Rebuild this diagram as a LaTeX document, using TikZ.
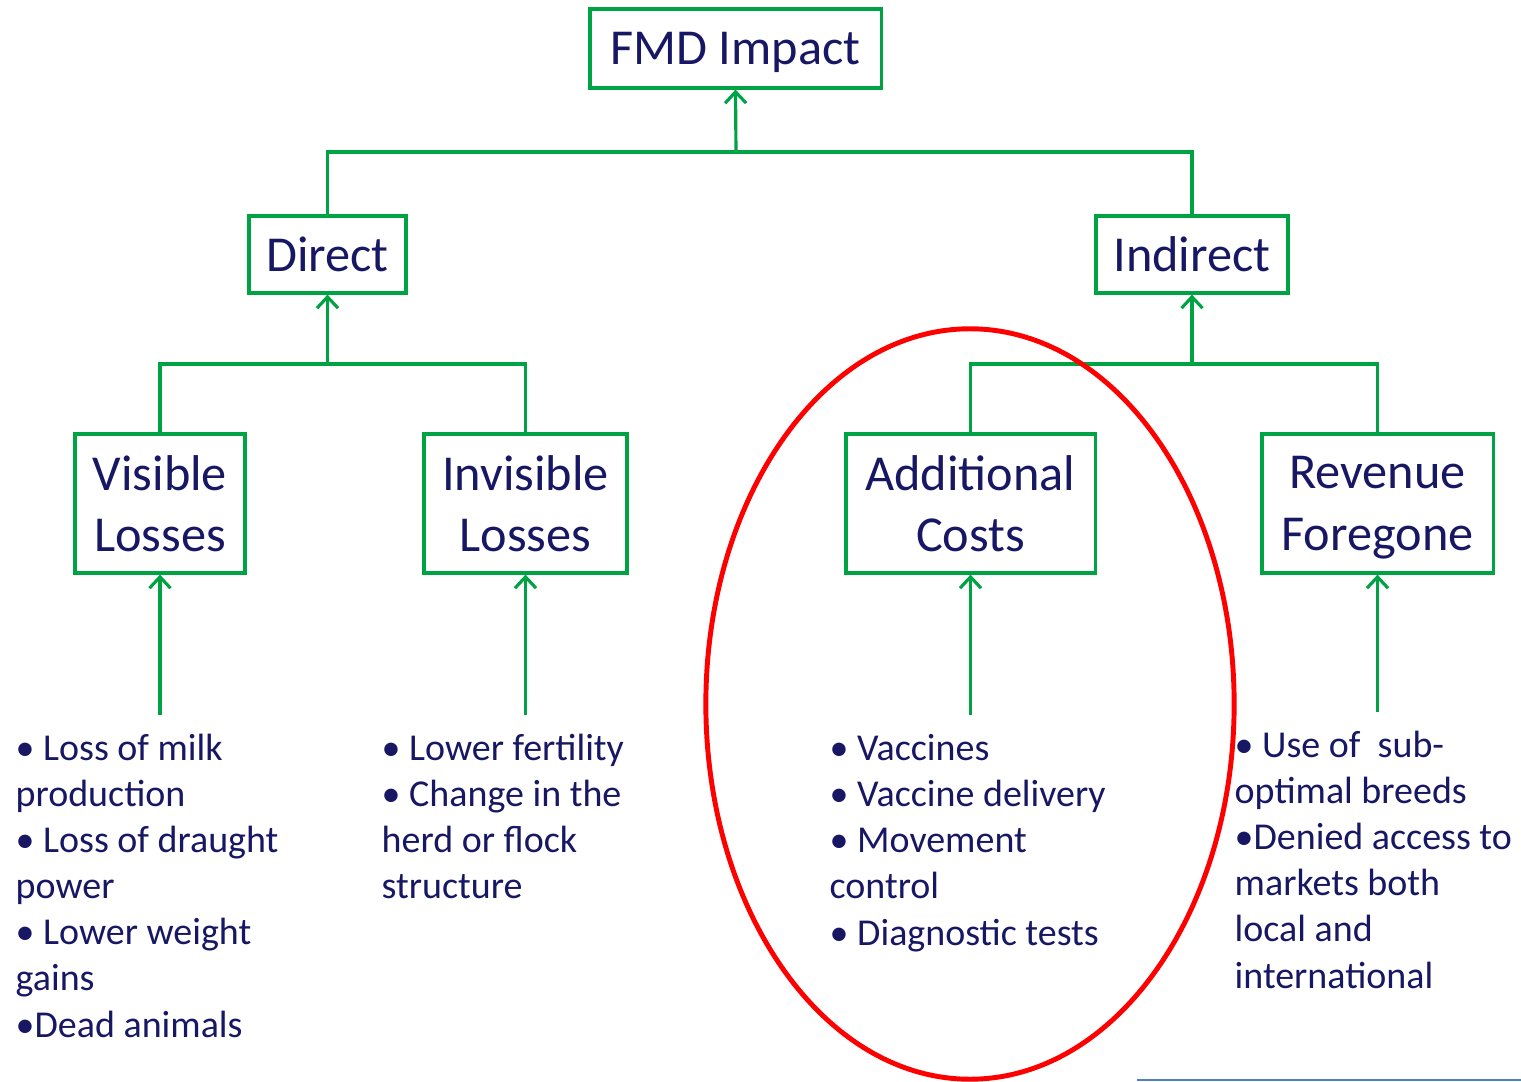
\documentclass[tikz,border=0pt]{standalone}
\usepackage{fontspec}
\setmainfont{Carlito}
\usetikzlibrary{arrows.meta}
\definecolor{boxgreen}{RGB}{0,163,68}
\definecolor{inknavy}{RGB}{23,23,100}
\definecolor{rulerblue}{RGB}{79,129,189}
\tikzset{
  box/.style={draw=boxgreen,line width=0.9pt,text=inknavy,inner sep=0pt,align=center,
    text depth=0pt,font=\fontsize{14.3}{17.6}\selectfont},
  items/.style={anchor=base west,align=left,inner sep=0pt,text=inknavy,
    font=\fontsize{10.8}{13.1}\selectfont},
  link/.style={draw=boxgreen,line width=0.9pt},
  up/.style={link,-{Straight Barb[length=3.2pt,width=6pt]}}
}
\begin{document}
\begin{tikzpicture}[x=0.01cm,y=-0.01cm]
\useasboundingbox (0,0) rectangle (1521,1082);
% boxes
\node[box,minimum width=2.91cm,minimum height=0.79cm] (fmd) at (735.5,48.5) {FMD Impact};
\node[box,minimum width=1.57cm,minimum height=0.77cm] (direct) at (327.5,254.5) {Direct};
\node[box,minimum width=1.92cm,minimum height=0.77cm] (indirect) at (1192,254.5) {Indirect};
\node[box,minimum width=1.70cm,minimum height=1.39cm] (visible) at (160,503.5) {Visible\\Losses};
\node[box,minimum width=2.03cm,minimum height=1.39cm] (invisible) at (525.5,503.5) {Invisible\\Losses};
\node[box,minimum width=2.49cm,minimum height=1.39cm] (additional) at (970.5,503.5) {Additional\\Costs};
\node[box,minimum width=2.31cm,minimum height=1.39cm] (revenue) at (1377.5,503.5) {Revenue\\Foregone};
% joints
\coordinate (topjoin) at (736,152);
\coordinate (dirjoin) at (327.5,364);
\coordinate (indjoin) at (1192,364);
\draw[link] (direct.north) |- (topjoin);
\draw[link] (indirect.north) |- (topjoin);
\draw[up] (topjoin) -- (fmd.south);
\draw[link] (visible.north) |- (dirjoin);
\draw[link] (invisible.north) |- (dirjoin);
\draw[up] (dirjoin) -- (direct.south);
\draw[link] (additional.north) |- (indjoin);
\draw[link] (revenue.north) |- (indjoin);
\draw[up] (indjoin) -- (indirect.south);
% lists (anchored on the last baseline)
\node[items] (vislist) at (15,1037) {• Loss of milk\\production\\• Loss of draught\\power\\• Lower weight\\gains\\•Dead animals};
\node[items] (invlist) at (381,898.5) {• Lower fertility\\• Change in the\\herd or flock\\structure};
\node[items] (addlist) at (829,945) {• Vaccines\\• Vaccine delivery\\• Movement\\control\\• Diagnostic tests};
\node[items] (revlist) at (1234,988) {• Use of \ sub-\\optimal breeds\\•Denied access to\\markets both\\local and\\international};
\coordinate (visfoot) at (160,715);
\coordinate (invfoot) at (525.5,715);
\coordinate (addfoot) at (970.5,715);
\coordinate (revfoot) at (1377.5,712);
\draw[up] (visfoot) -- (visible.south);
\draw[up] (invfoot) -- (invisible.south);
\draw[up] (addfoot) -- (additional.south);
\draw[up] (revfoot) -- (revenue.south);
% highlight
\draw[red,line width=1.4pt] (970,704) ellipse [x radius=2.64cm,y radius=3.75cm];
\draw[rulerblue,line width=0.5pt] (1137,1080) -- (1521,1080);
\end{tikzpicture}
\end{document}
